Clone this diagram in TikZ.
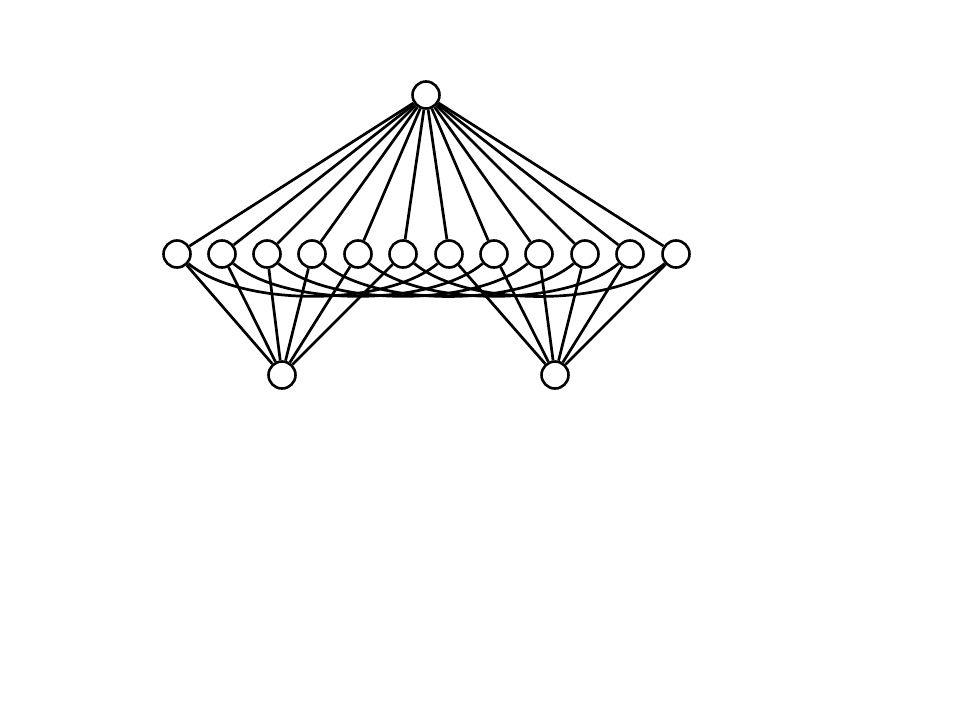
\documentclass[tikz,border=0pt]{standalone}
\begin{document}
\begin{tikzpicture}[x=1pt,y=-1pt,
  vert/.style={circle,draw=black,line width=2.6pt,fill=white,inner sep=0pt,minimum size=27pt},
  link/.style={line width=2.7pt,draw=black}]
\useasboundingbox (0,0) rectangle (960,720);
\node[vert] (t) at (426,95) {};
\foreach \i/\x in {1/177,2/222,3/267,4/312,5/358,6/403,7/449,8/494,9/539,10/585,11/630,12/676}
  \node[vert] (m\i) at (\x,254) {};
\node[vert] (b1) at (282,375) {};
\node[vert] (b2) at (555,375) {};
\foreach \i in {1,...,12} \draw[link] (t) -- (m\i);
\foreach \i in {1,...,6} \draw[link] (m\i) -- (b1);
\foreach \i in {7,...,12} \draw[link] (m\i) -- (b2);
\foreach \i in {1,...,6} {
  \pgfmathtruncatemacro{\j}{\i+6}
  \draw[link] (m\i) to[out=-40,in=-140,looseness=0.7] (m\j);
}
\end{tikzpicture}
\end{document}
